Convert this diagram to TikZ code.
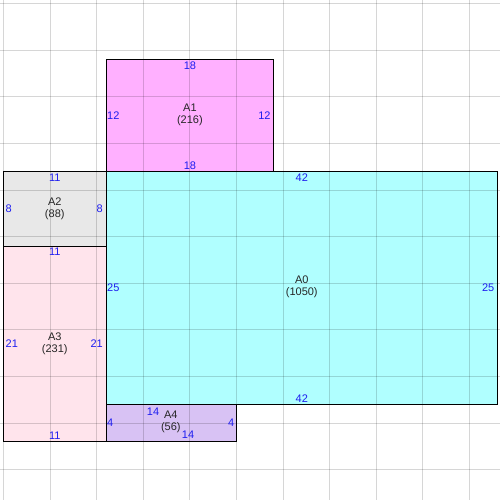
\documentclass[tikz,border=0pt]{standalone}
\usepackage{fontspec}
\setmainfont{Liberation Sans}
\definecolor{cA0}{RGB}{176,255,255}
\definecolor{cA1}{RGB}{255,176,255}
\definecolor{cA2}{RGB}{232,232,232}
\definecolor{cA3}{RGB}{255,228,236}
\definecolor{cA4}{RGB}{216,194,244}
\definecolor{dimblue}{RGB}{30,30,240}
\begin{document}
\begin{tikzpicture}[x=9.32pt,y=-9.32pt,
  font=\fontsize{11}{12}\selectfont,
  room/.style={draw=black,line width=1pt},
  gridline/.style={draw=black,draw opacity=0.16,line width=1pt},
  dim/.style={text=dimblue,inner sep=2pt},
  roomname/.style={align=center,inner sep=0pt,text=black!85}]
\useasboundingbox (-0.376,-6.405) rectangle (53.27,47.24);
\fill[white] (-0.376,-6.405) rectangle (53.27,47.24);
% fills
\fill[cA1] (11,0) rectangle (29,12);
\fill[cA0] (11,12) rectangle (53,37);
\fill[cA2] (0,12) rectangle (11,20);
\fill[cA3] (0,20) rectangle (11,41);
\fill[cA4] (11,37) rectangle (25,41);
% grid
\foreach \i in {0,5,...,50} \draw[gridline] (\i,-6.405) -- (\i,47.24);
\foreach \j in {-6,-1,...,44} \draw[gridline] (-0.376,\j) -- (53.27,\j);
% borders
\draw[room] (11,0) rectangle (29,12);
\draw[room] (11,12) rectangle (53,37);
\draw[room] (0,12) rectangle (11,20);
\draw[room] (0,20) rectangle (11,41);
\draw[room] (11,37) rectangle (25,41);
% A1
\node[roomname] (a1) at (20,5.9) {A1\\(216)};
\node[dim,anchor=north] (a1t) at (20,0) {18};
\node[dim,anchor=south] (a1b) at (20,12) {18};
\node[dim,anchor=west,inner sep=1pt] (a1l) at (11,6) {12};
\node[dim,anchor=east,inner sep=3pt] (a1r) at (29,6) {12};
% A0
\node[roomname] (a0) at (32,24.35) {A0\\(1050)};
\node[dim,anchor=north] (a0t) at (32,12) {42};
\node[dim,anchor=south] (a0b) at (32,37) {42};
\node[dim,anchor=west,inner sep=1pt] (a0l) at (11,24.5) {25};
\node[dim,anchor=east,inner sep=3pt] (a0r) at (53,24.5) {25};
% A2
\node[roomname] (a2) at (5.5,16) {A2\\(88)};
\node[dim,anchor=north] (a2t) at (5.5,12) {11};
\node[dim,anchor=west] (a2l) at (0,16) {8};
\node[dim,anchor=east,inner sep=3pt] (a2r) at (11,16) {8};
% A3
\node[roomname] (a3) at (5.5,30.5) {A3\\(231)};
\node[dim,anchor=north] (a3t) at (5.5,20) {11};
\node[dim,anchor=south] (a3b) at (5.5,41) {11};
\node[dim,anchor=west] (a3l) at (0,30.5) {21};
\node[dim,anchor=east,inner sep=3pt] (a3r) at (11,30.5) {21};
% A4
\node[roomname] (a4) at (17.95,38.85) {A4\\(56)};
\node[dim,inner sep=0pt] (a4t) at (16.04,37.77) {14};
\node[dim,inner sep=0pt] (a4b) at (19.8,40.21) {14};
\node[dim,anchor=west,inner sep=0.8pt] (a4l) at (11,39) {4};
\node[dim,anchor=east,inner sep=2pt] (a4r) at (25,39) {4};
\end{tikzpicture}
\end{document}
